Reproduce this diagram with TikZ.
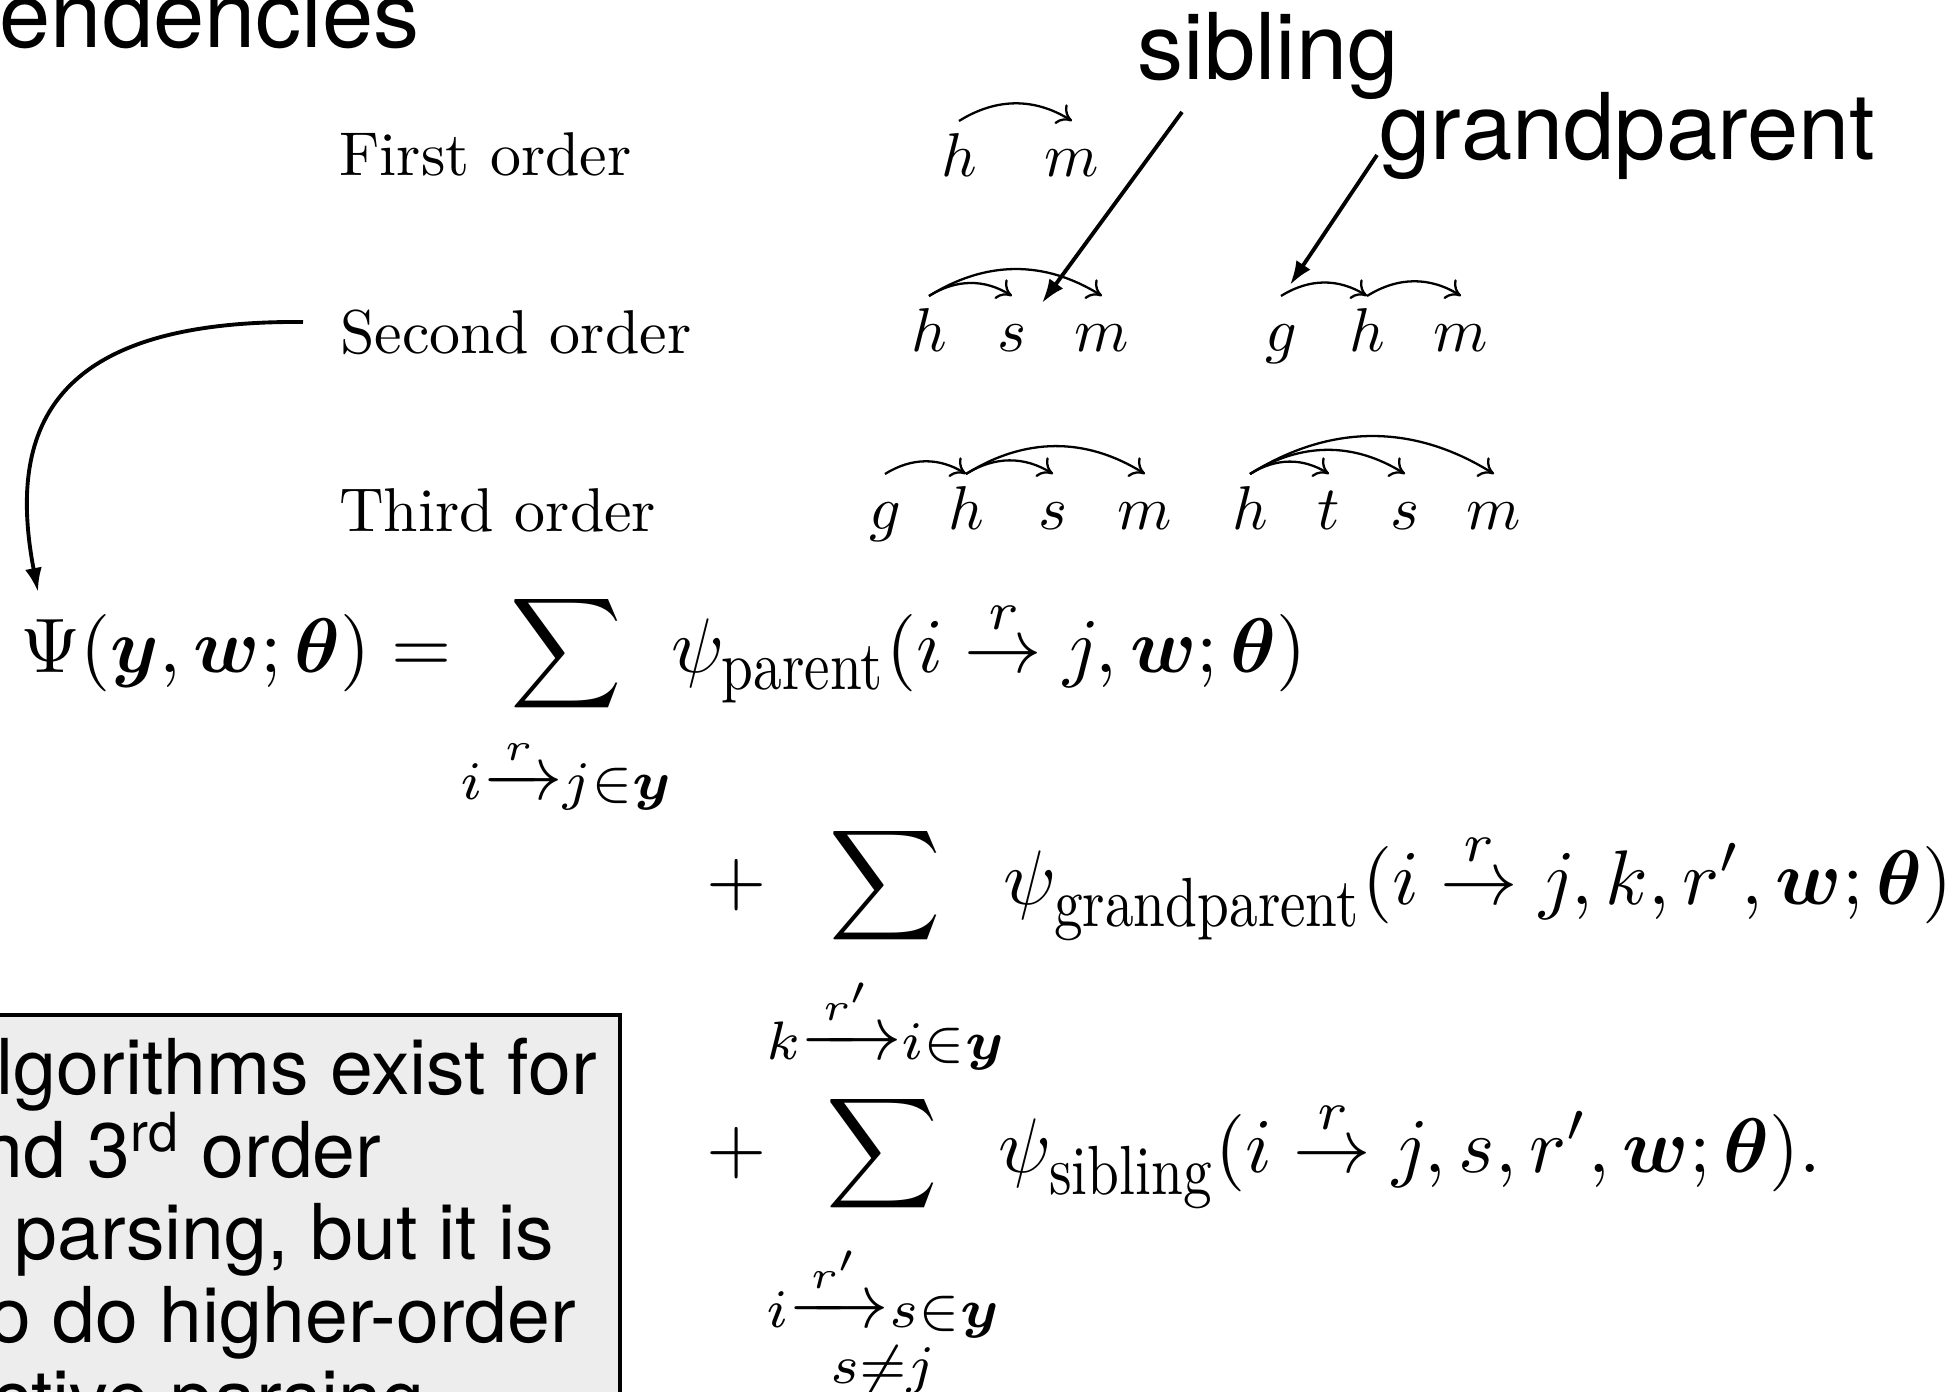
\documentclass[tikz,border=0pt]{standalone}
\usepackage{amsmath}
\usepackage{bm}
\usepackage{graphicx}
\usepackage{fontspec}
\newfontfamily\helv{TeX Gyre Heros}
\newcommand{\factor}[1]{\mbox{\scalebox{0.74}[0.9]{#1}}}
\usetikzlibrary{arrows.meta, calc}

\begin{document}
\begin{tikzpicture}[x=0.01cm, y=-0.01cm,
  lbl/.style={anchor=base west, inner sep=0pt, font=\fontsize{10}{12}\selectfont, scale=1.76},
  word/.style={anchor=base, inner sep=0pt, font=\fontsize{10}{12}\selectfont, scale=1.76},
  eqn/.style={anchor=base west, inner sep=0pt, font=\fontsize{10}{12}\selectfont, scale=2.2},
  callout/.style={anchor=base west, inner sep=0pt, font=\helv\fontsize{26.2}{30}\selectfont},
  note/.style={anchor=base west, inner sep=0pt, font=\helv\fontsize{21.9}{25}\selectfont},
  dep/.style={-{To[length=4pt,width=6.5pt]}, line width=0.65pt, bend left=32},
  pointer/.style={-{Latex[length=0.24cm,width=0.17cm]}, line width=1.1pt}]
  \useasboundingbox (0,0) rectangle (1957,1392);
  \clip (0,0) rectangle (1957,1392);

  \node[callout] (title) at (-1,48) {endencies};

  \node[lbl] (first)  at (338,176) {First order};
  \node[lbl] (second) at (339,354) {Second order};
  \node[lbl] (third)  at (338,532) {Third order};

  \node[word] (fo-h) at (959,177) {$h$};
  \node[word] (fo-m) at (1072,177) {$m$};

  \node[word] (so-h) at (929,352) {$h$};
  \node[word] (so-s) at (1012,352) {$s$};
  \node[word] (so-m) at (1102,352) {$m$};
  \node[word] (sg-g) at (1281,352) {$g$};
  \node[word] (sg-h) at (1367,352) {$h$};
  \node[word] (sg-m) at (1461,352) {$m$};

  \node[word] (to-g) at (885,530) {$g$};
  \node[word] (to-h) at (966,530) {$h$};
  \node[word] (to-s) at (1053,530) {$s$};
  \node[word] (to-m) at (1145,530) {$m$};
  \node[word] (tt-h) at (1250,530) {$h$};
  \node[word] (tt-t) at (1329,530) {$t$};
  \node[word] (tt-s) at (1405,530) {$s$};
  \node[word] (tt-m) at (1494,530) {$m$};

  \foreach \a/\b in {fo-h/fo-m, so-h/so-s, so-h/so-m, sg-g/sg-h, sg-h/sg-m,
                     to-g/to-h, to-h/to-s, to-h/to-m, tt-h/tt-t, tt-h/tt-s, tt-h/tt-m}
    \draw[dep] ($(\a.base)+(0,-56)$) to ($(\b.base)+(0,-56)$);

  \node[callout] (sib) at (1137,80) {sibling};
  \node[callout] (gp)  at (1379,160) {grandparent};
  \coordinate (sibtip) at (1042,303);
  \coordinate (gptip)  at (1290,285);
  \draw[pointer] ($(sib.base west)+(45,32)$) -- (sibtip);
  \draw[pointer] ($(gp.base west)+(-2,-5)$) -- (gptip);

  \node[eqn] (eq1) at (19,673) {$\displaystyle \Psi(\bm{y},\bm{w};\bm{\theta}) = \!\sum_{\rule{0pt}{9.2pt}\smash[t]{i\xrightarrow{r}j\in\bm{y}}} \!\psi_{\factor{parent}}(i \stackrel{r}{\rightarrow} j,\bm{w};\bm{\theta})$};
  \node[eqn] (eq2) at (705,905) {$\displaystyle +\!\sum_{\rule{0pt}{12.8pt}\smash[t]{k\xrightarrow{r'}i\in\bm{y}}} \!\psi_{\factor{grandparent}}(i \stackrel{r}{\rightarrow} j,k,r',\bm{w};\bm{\theta})$};
  \node[eqn] (eq3) at (705,1173) {$\displaystyle +\!\sum_{\substack{\rule{0pt}{12.8pt}\smash[t]{i\xrightarrow{r'}s\in\bm{y}}\\ s\neq j}} \!\psi_{\factor{sibling}}(i \stackrel{r}{\rightarrow} j,s,r',\bm{w};\bm{\theta}).$};

  \coordinate (psitip) at (38,592);
  \draw[pointer] ($(second.base west)+(-36,-32)$) .. controls (60,320) and (5,420) .. (psitip);

  \draw[line width=1.1pt, fill=black!7] (-30,1015) rectangle (620,1450);
  \node[note] (alg1) at (-4,1095) {lgorithms exist for};
  \node[note] (alg2) at (-20,1178) {nd 3\textsuperscript{rd} order};
  \node[note] (alg3) at (14,1260) {parsing, but it is};
  \node[note] (alg4) at (-12,1342) {o do higher-order};
  \node[note] (alg5) at (-8,1425) {ctive parsing};
\end{tikzpicture}
\end{document}
